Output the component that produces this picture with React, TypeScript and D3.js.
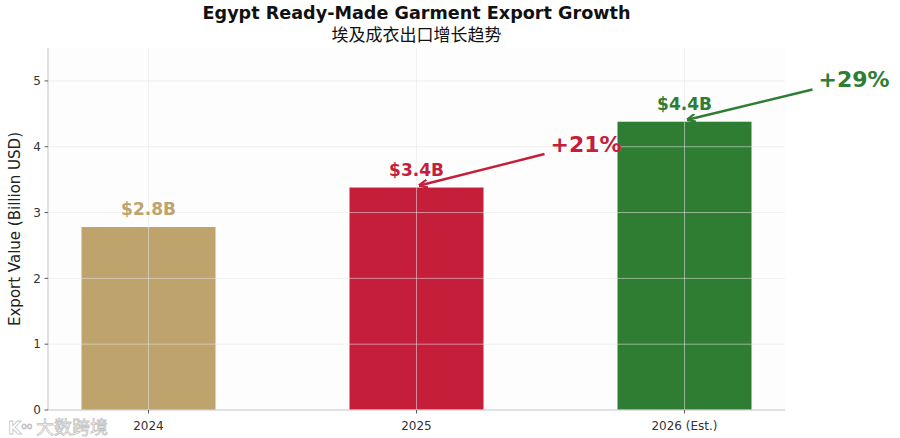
import * as d3 from 'd3';

const years = ['2024', '2025', '2026 (Est.)'];
const values = [2.78, 3.38, 4.38];
const valueLabels = ['$2.8B', '$3.4B', '$4.4B'];
const barColors = ['#bfa36d', '#c41e3a', '#2e7d32'];
const yTicks = [0, 1, 2, 3, 4, 5];

// growth callouts: which bar the arrow points at, and where the label sits (data units)
const growthLabels = ['+21%', '+29%'];
const growthTargets = [1, 2];
const growthTextPos = [
  { x: 1.5, y: 3.92 },
  { x: 2.5, y: 4.9 },
];

const width = 900;
const height = 438;
const margin = { top: 48, right: 115, bottom: 28, left: 48 };
const font = '"DejaVu Sans", Verdana, sans-serif';

export default function App() {
  const innerW = width - margin.left - margin.right;
  const innerH = height - margin.top - margin.bottom;

  const x = d3.scaleLinear().domain([-0.375, 2.375]).range([margin.left, margin.left + innerW]);
  const y = d3.scaleLinear().domain([0, 5.5]).range([margin.top + innerH, margin.top]);
  const barW = x(0.5) - x(0);

  return (
    <svg
      width={width}
      height={height}
      style={{ position: 'absolute', left: 0, top: 0, background: '#ffffff' }}
    >
      <defs>
        {barColors.map((c, i) => (
          <marker
            key={i}
            id={`arrow-${i}`}
            viewBox="0 0 10 10"
            refX={9}
            refY={5}
            markerWidth={9}
            markerHeight={9}
            markerUnits="userSpaceOnUse"
            orient="auto"
          >
            <path d="M0,0.5 L10,5 L0,9.5" fill="none" stroke={c} strokeWidth={2.4} />
          </marker>
        ))}
      </defs>

      <rect x={margin.left} y={margin.top} width={innerW} height={innerH} fill="#fdfdfd" />

      {/* bars */}
      {values.map((v, i) => (
        <rect
          key={years[i]}
          x={x(i) - barW / 2}
          y={y(v)}
          width={barW}
          height={y(0) - y(v)}
          fill={barColors[i]}
        />
      ))}

      {/* grid on top of bars */}
      {yTicks.map((t) => (
        <line
          key={t}
          x1={margin.left}
          x2={margin.left + innerW}
          y1={y(t)}
          y2={y(t)}
          stroke="#e6e6e6"
          strokeOpacity={0.55}
          strokeWidth={1}
        />
      ))}
      {years.map((_, i) => (
        <line
          key={i}
          x1={x(i)}
          x2={x(i)}
          y1={margin.top}
          y2={y(0)}
          stroke="#e6e6e6"
          strokeOpacity={0.55}
          strokeWidth={1}
        />
      ))}

      {/* spines */}
      <line x1={margin.left} x2={margin.left} y1={margin.top} y2={y(0)} stroke="#cccccc" strokeWidth={1.2} />
      <line x1={margin.left} x2={margin.left + innerW} y1={y(0)} y2={y(0)} stroke="#cccccc" strokeWidth={1.2} />

      {/* y ticks */}
      {yTicks.map((t) => (
        <g key={t}>
          <line x1={margin.left - 3.5} x2={margin.left} y1={y(t)} y2={y(t)} stroke="#333" strokeWidth={0.8} />
          <text
            x={margin.left - 7}
            y={y(t)}
            dy="0.35em"
            textAnchor="end"
            fontFamily={font}
            fontSize={12}
            fill="#333"
          >
            {t}
          </text>
        </g>
      ))}

      {/* x ticks */}
      {years.map((yr, i) => (
        <g key={yr}>
          <line x1={x(i)} x2={x(i)} y1={y(0)} y2={y(0) + 3.5} stroke="#333" strokeWidth={0.8} />
          <text
            x={x(i)}
            y={y(0) + 20}
            textAnchor="middle"
            fontFamily={font}
            fontSize={12}
            fill="#333"
          >
            {yr}
          </text>
        </g>
      ))}

      {/* value labels */}
      {values.map((v, i) => (
        <text
          key={i}
          x={x(i)}
          y={y(v) - 12}
          textAnchor="middle"
          fontFamily={font}
          fontSize={17}
          fontWeight="bold"
          fill={barColors[i]}
        >
          {valueLabels[i]}
        </text>
      ))}

      {/* growth arrows */}
      {growthLabels.map((lab, k) => {
        const i = growthTargets[k];
        const p = growthTextPos[k];
        const tx = x(p.x);
        const ty = y(p.y);
        return (
          <g key={lab}>
            <line
              x1={tx - 6}
              y1={ty + 2}
              x2={x(i) + 3}
              y2={y(values[i]) - 2}
              stroke={barColors[i]}
              strokeWidth={2.5}
              markerEnd={`url(#arrow-${i})`}
            />
            <text
              x={tx}
              y={ty}
              fontFamily={font}
              fontSize={22}
              fontWeight="bold"
              fill={barColors[i]}
            >
              {lab}
            </text>
          </g>
        );
      })}

      {/* axis label */}
      <text
        transform={`translate(20,${margin.top + innerH / 2}) rotate(-90)`}
        textAnchor="middle"
        fontFamily={font}
        fontSize={15}
        fill="#222"
      >
        Export Value (Billion USD)
      </text>

      {/* titles */}
      <text
        x={margin.left + innerW / 2}
        y={18.5}
        textAnchor="middle"
        fontFamily={font}
        fontSize={17.6}
        fontWeight="bold"
        fill="#111"
      >
        Egypt Ready-Made Garment Export Growth
      </text>
      <text
        x={margin.left + innerW / 2}
        y={40.5}
        textAnchor="middle"
        fontFamily='"Noto Sans CJK SC", sans-serif'
        fontSize={17}
        fill="#111"
      >
        埃及成衣出口增长趋势
      </text>

      {/* watermark */}
      <text
        x={8}
        y={434}
        fontFamily='"Noto Sans CJK SC", sans-serif'
        fontSize={18}
        fill="#ffffff"
        fillOpacity={0.8}
        stroke="#999"
        strokeOpacity={0.6}
        strokeWidth={0.8}
      >
        <tspan fontFamily={font} fontSize={17} fontWeight="bold">K</tspan>
        <tspan fontSize={9} dy={-5}>oo</tspan>
        <tspan dy={5} dx={4}>大数跨境</tspan>
      </text>
    </svg>
  );
}
